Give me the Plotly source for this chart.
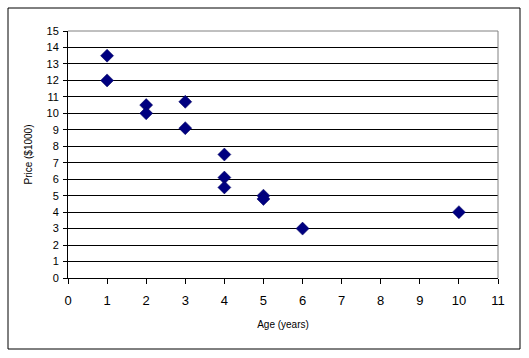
import plotly.graph_objects as go

age_years = [1, 1, 2, 2, 3, 3, 4, 4, 4, 5, 5, 6, 10]
price_thousands = [13.5, 12.0, 10.5, 10.0, 10.7, 9.1, 7.5, 6.1, 5.5, 5.0, 4.8, 3.0, 4.0]
x_tick_values = list(range(0, 12))
y_tick_values = list(range(0, 16))

W, H = 529, 358
L, R, T, B = 68, 31, 31, 80
pw, ph = W - L - R, H - T - B

fig = go.Figure()
fig.add_trace(go.Scatter(
    x=age_years, y=price_thousands, mode="markers",
    marker=dict(symbol="diamond", size=10, color="#000080",
                line=dict(color="#00005a", width=0.5)),
    showlegend=False, cliponaxis=False,
))

font = "Liberation Sans, Arial, sans-serif"
fig.update_layout(
    width=W, height=H,
    margin=dict(l=L, r=R, t=T, b=B, autoexpand=False),
    paper_bgcolor="white", plot_bgcolor="white",
    font=dict(family=font, color="black"),
    xaxis=dict(
        range=[0, 11], tickvals=x_tick_values, showgrid=False, zeroline=False,
        showline=True, linecolor="black", linewidth=1, automargin=False,
        ticks="outside", ticklen=5, tickcolor="black", ticklabelstandoff=5,
        tickfont=dict(size=13, family=font),
        title=dict(text="Age (years)", font=dict(size=10, family=font), standoff=14),
    ),
    yaxis=dict(
        range=[0, 15], tickvals=y_tick_values, showgrid=True, gridcolor="black",
        gridwidth=1, zeroline=False, automargin=False,
        showline=True, linecolor="black", linewidth=1,
        ticks="outside", ticklen=4, tickcolor="black", ticklabelstandoff=2,
        tickfont=dict(size=11, family=font),
        title=dict(text="Price ($1000)", font=dict(size=10, family=font), standoff=12),
    ),
    shapes=[
        dict(type="line", xref="paper", yref="paper", x0=0, x1=1, y0=1, y1=1,
             line=dict(color="#808080", width=1), layer="above"),
        dict(type="line", xref="paper", yref="paper", x0=1, x1=1, y0=0, y1=1,
             line=dict(color="#808080", width=1), layer="above"),
        dict(type="rect", xref="paper", yref="paper",
             x0=(8 - L) / pw, x1=(520 - L) / pw,
             y0=(H - B - 349) / ph, y1=(H - B - 8) / ph,
             line=dict(color="black", width=1), layer="below"),
    ],
)

fig.write_html(
    "out.html",
    config={"displayModeBar": False},
    post_script="document.body.style.margin='0';document.body.style.padding='0';",
)
